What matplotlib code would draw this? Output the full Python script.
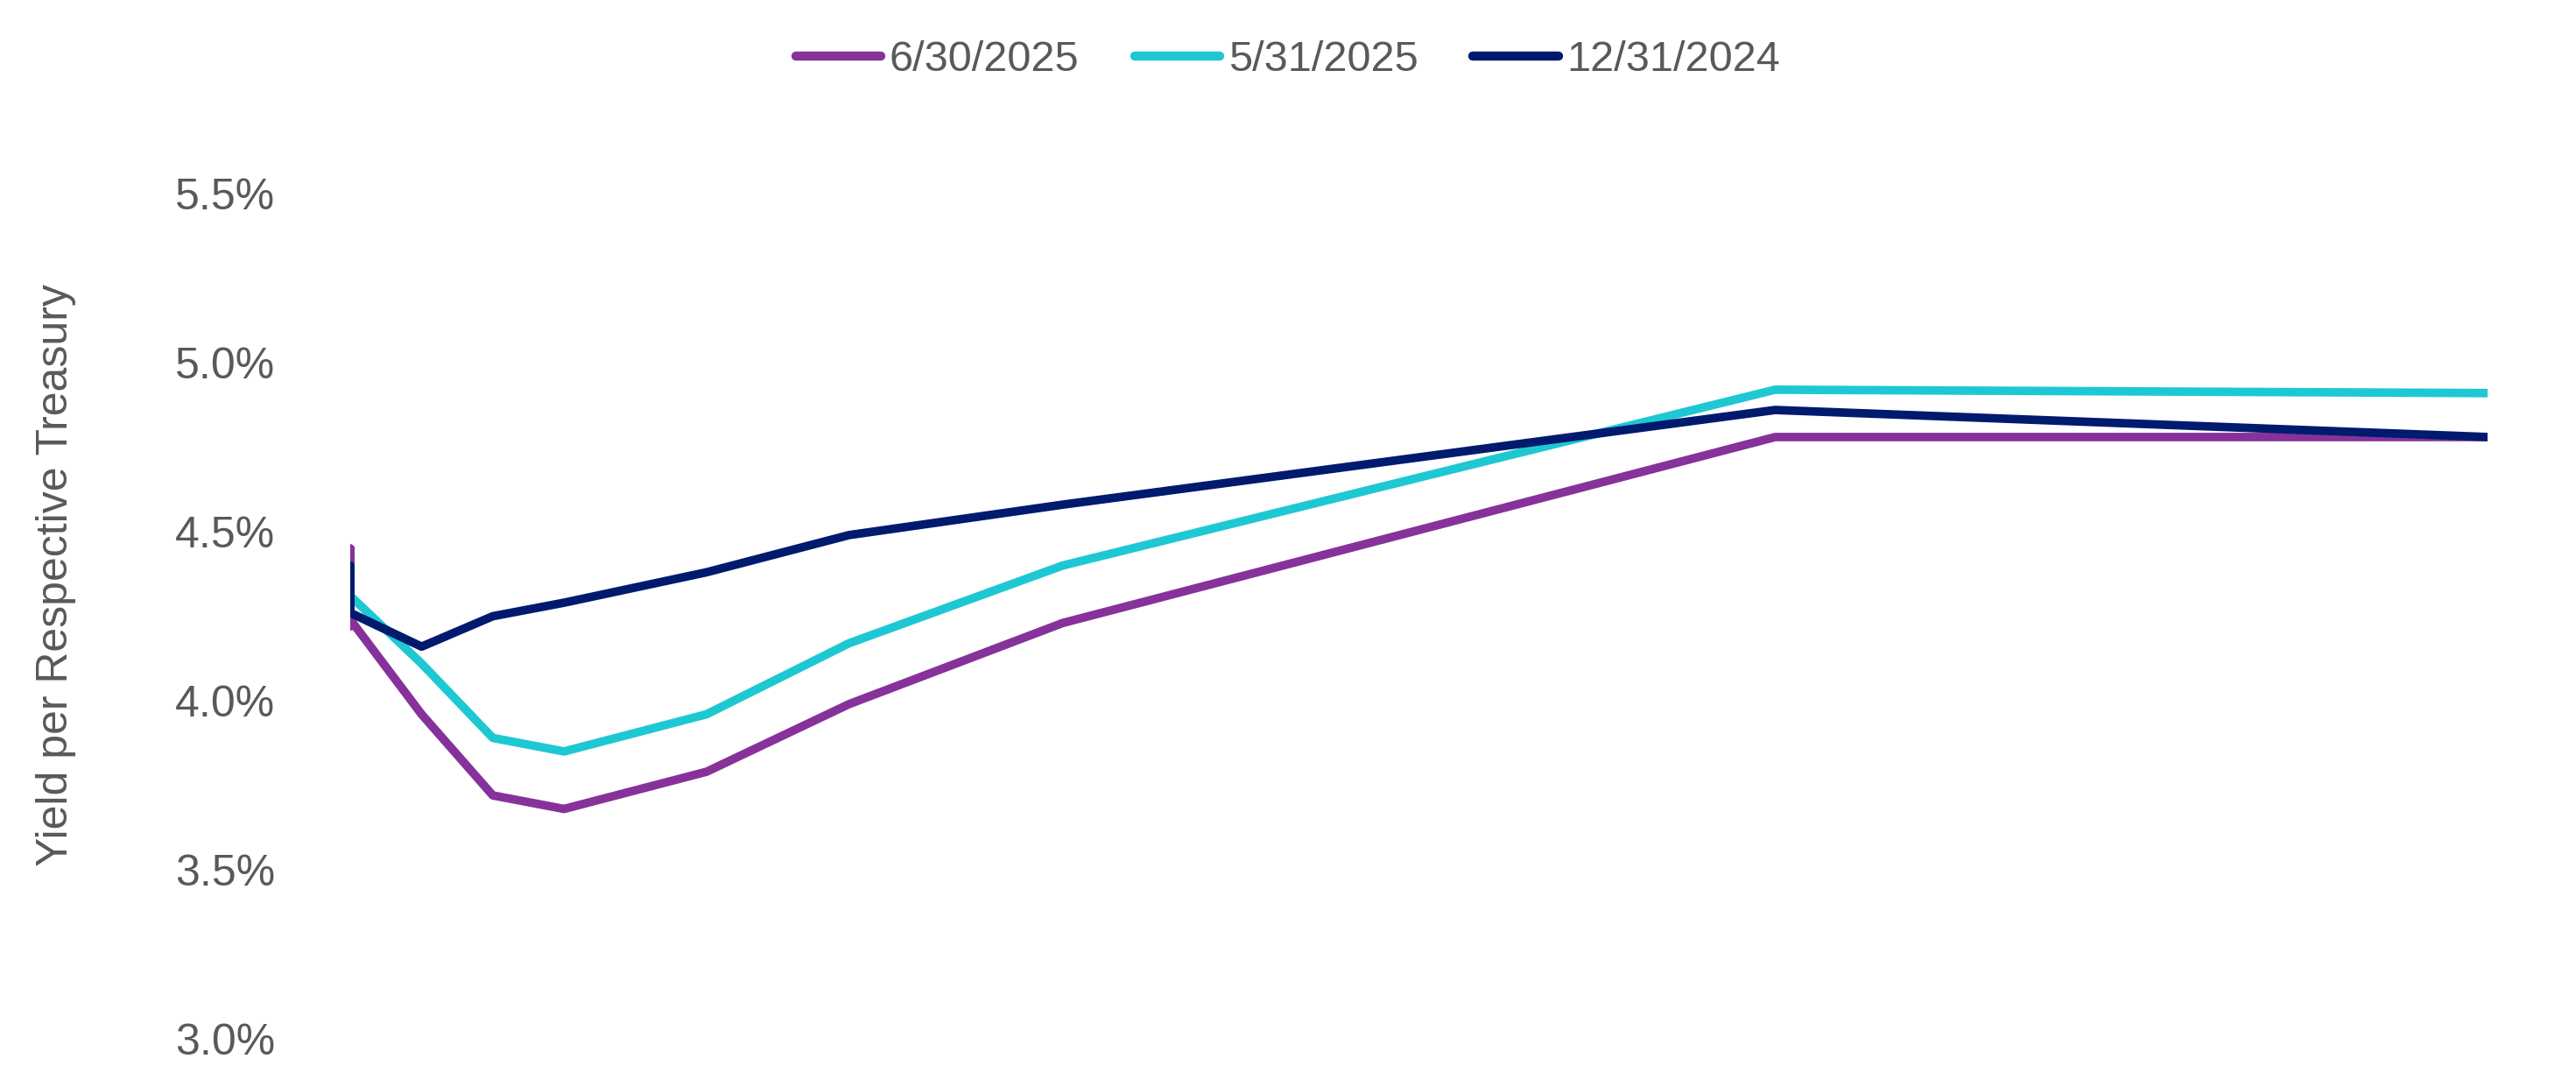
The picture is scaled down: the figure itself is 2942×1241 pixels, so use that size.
import matplotlib.pyplot as plt
from matplotlib.ticker import FuncFormatter

# treasury maturities (short bills all sit at x = 0 on the chart)
maturities = ['1M', '2M', '3M', '4M', '6M', '1Y', '2Y', '3Y', '5Y', '7Y', '10Y', '20Y', '30Y']
x_years = [0, 0, 0, 0, 0, 1, 2, 3, 5, 7, 10, 20, 30]

y_jun_2025 = [4.22, 4.45, 4.40, 4.35, 4.24, 3.96, 3.72, 3.68, 3.79, 3.99, 4.23, 4.78, 4.78]
y_may_2025 = [4.29, 4.33, 4.36, 4.35, 4.31, 4.11, 3.89, 3.85, 3.96, 4.17, 4.40, 4.92, 4.91]
y_dec_2024 = [4.40, 4.35, 4.37, 4.33, 4.26, 4.16, 4.25, 4.29, 4.38, 4.49, 4.58, 4.86, 4.78]

labels = ['6/30/2025', '5/31/2025', '12/31/2024']
colors = ['#86329A', '#1EC8D3', '#001A6E']

yticks = [3.0, 3.5, 4.0, 4.5, 5.0, 5.5]

txt = '#595959'
plt.rcParams['font.family'] = ['Liberation Sans', 'DejaVu Sans']

fig = plt.figure(figsize=(29.42, 12.41), dpi=100)
ax = fig.add_axes([0.136, 0.0443, 0.8297, 0.7776])

for ys, lab, c in zip([y_jun_2025, y_may_2025, y_dec_2024], labels, colors):
    ax.plot(x_years, ys, color=c, lw=7, label=lab,
            solid_capstyle='round', solid_joinstyle='round')

ax.set_xlim(0, 30)
ax.set_ylim(3.0, 5.5)
ax.set_yticks(yticks)
ax.yaxis.set_major_formatter(FuncFormatter(lambda v, p: '%.1f%%' % v))
ax.tick_params(axis='y', length=0, pad=62, labelsize=36, labelcolor=txt)
ax.set_xticks([])
for s in ax.spines.values():
    s.set_visible(False)

fig.text(64 / 2942, 1 - 657 / 1241, 'Yield per Respective Treasury', rotation=90,
         ha='center', va='center', fontsize=36, color=txt)

leg = fig.legend(loc='center', bbox_to_anchor=(0.5, 0.945), ncol=3, frameon=False,
                 fontsize=35, handlelength=2.0, handletextpad=0.2, columnspacing=1.3)
for t in leg.get_texts():
    t.set_color(txt)
for h in leg.get_lines():
    h.set_linewidth(7.5)
    h.set_solid_capstyle('round')

fig.savefig('out.png', dpi=100)
